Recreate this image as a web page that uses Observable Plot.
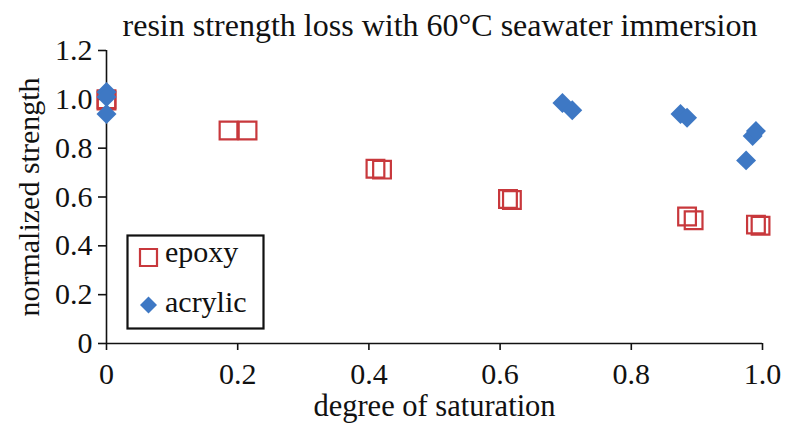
<!DOCTYPE html>
<html>
<head>
<meta charset="utf-8">
<script src="https://cdn.jsdelivr.net/npm/d3@7"></script>
<script src="https://cdn.jsdelivr.net/npm/@observablehq/plot@0.6"></script>
<style>
  html, body { margin: 0; padding: 0; background: white; }
  #wrap { position: relative; width: 786px; height: 430px; font-family: "Liberation Serif", serif; color: #111; overflow: hidden; background: white; }
  #title { position: absolute; left: 0; width: 880px; top: 9px; text-align: center; font-size: 32px; line-height: 32px; white-space: nowrap; z-index: 2; }
  #chart { position: absolute; left: 0; top: 36px; z-index: 1; }
  #legend { position: absolute; left: 126px; top: 234px; z-index: 3; }
</style>
</head>
<body>
<div id="wrap">
  <div id="title"></div>
  <div id="chart"></div>
  <div id="legend"></div>
</div>
<script>
// Data
const epoxyX = [0, 0, 0.186, 0.215, 0.41, 0.42, 0.612, 0.618, 0.885, 0.895, 0.99, 0.997];
const epoxyY = [1.0, 0.995, 0.872, 0.872, 0.716, 0.712, 0.592, 0.588, 0.52, 0.505, 0.487, 0.482];
const acrylicX = [0, 0, 0, 0.695, 0.71, 0.875, 0.885, 0.975, 0.985, 0.99];
const acrylicY = [1.03, 1.01, 0.94, 0.985, 0.955, 0.94, 0.925, 0.75, 0.85, 0.87];
const xTicks = [0, 0.2, 0.4, 0.6, 0.8, 1.0];
const yTicks = [0, 0.2, 0.4, 0.6, 0.8, 1.0, 1.2];
const seriesNames = ["epoxy", "acrylic"];
const titleText = "resin strength loss with 60°C seawater immersion";
const xLabel = "degree of saturation";
const yLabel = "normalized strength";

const red = "#c8383c";
const blue = "#3e78c4";
const fmt = d => d === 0 ? "0" : d.toFixed(1);

const epoxy = epoxyX.map((x, i) => ({x, y: epoxyY[i]}));
const acrylic = acrylicX.map((x, i) => ({x, y: acrylicY[i]}));

document.getElementById("title").textContent = titleText;

const chart = Plot.plot({
  width: 786,
  height: 394,
  marginTop: 14,
  marginBottom: 87,
  marginLeft: 106,
  marginRight: 24,
  x: {domain: [0, 1]},
  y: {domain: [0, 1.2]},
  style: {fontFamily: "Liberation Serif", fontSize: "30px", color: "#111", background: "none", overflow: "visible"},
  marks: [
    Plot.axisX({ticks: xTicks, tickFormat: fmt, tickSize: 7, tickPadding: 12, label: null, strokeWidth: 1.6}),
    Plot.axisY({ticks: yTicks, tickFormat: fmt, tickSize: 8, tickPadding: 6, label: null, strokeWidth: 1.6}),
    Plot.ruleY([0], {stroke: "#111", strokeWidth: 1.6}),
    Plot.ruleX([0], {stroke: "#111", strokeWidth: 1.6}),
    Plot.dot(epoxy, {x: "x", y: "y", symbol: "square", r: 10, stroke: red, strokeWidth: 2.2, fill: "none"}),
    Plot.dot(acrylic, {x: "x", y: "y", symbol: "diamond2", r: 9, fill: blue, stroke: "none"}),
    Plot.text([xLabel], {frameAnchor: "bottom", dy: 63, textAnchor: "middle", lineAnchor: "middle", fontSize: 30.5, fill: "#111"}),
    Plot.text([yLabel], {frameAnchor: "left", dx: -77, rotate: -90, textAnchor: "middle", lineAnchor: "middle", fontSize: 30, fill: "#111"})
  ]
});
document.getElementById("chart").appendChild(chart);

// Legend
const lg = d3.select("#legend").append("svg").attr("width", 140).attr("height", 97)
  .style("font-family", "Liberation Serif").style("font-size", "30px");
lg.append("rect").attr("x", 1.5).attr("y", 1.5).attr("width", 136).attr("height", 93)
  .attr("fill", "white").attr("stroke", "#111").attr("stroke-width", 2.2);
const items = [
  {name: seriesNames[0], sym: d3.symbolSquare, size: 289, fill: "none", stroke: red, cy: 23.5, base: 28},
  {name: seriesNames[1], sym: d3.symbolDiamond2, size: 184, fill: blue, stroke: "none", cy: 71, base: 78}
];
items.forEach(s => {
  lg.append("path")
    .attr("transform", `translate(22.5,${s.cy})`)
    .attr("d", d3.symbol(s.sym, s.size)())
    .attr("fill", s.fill)
    .attr("stroke", s.stroke)
    .attr("stroke-width", 2.2);
  lg.append("text").attr("x", 39).attr("y", s.base).attr("fill", "#111").text(s.name);
});
</script>
</body>
</html>
